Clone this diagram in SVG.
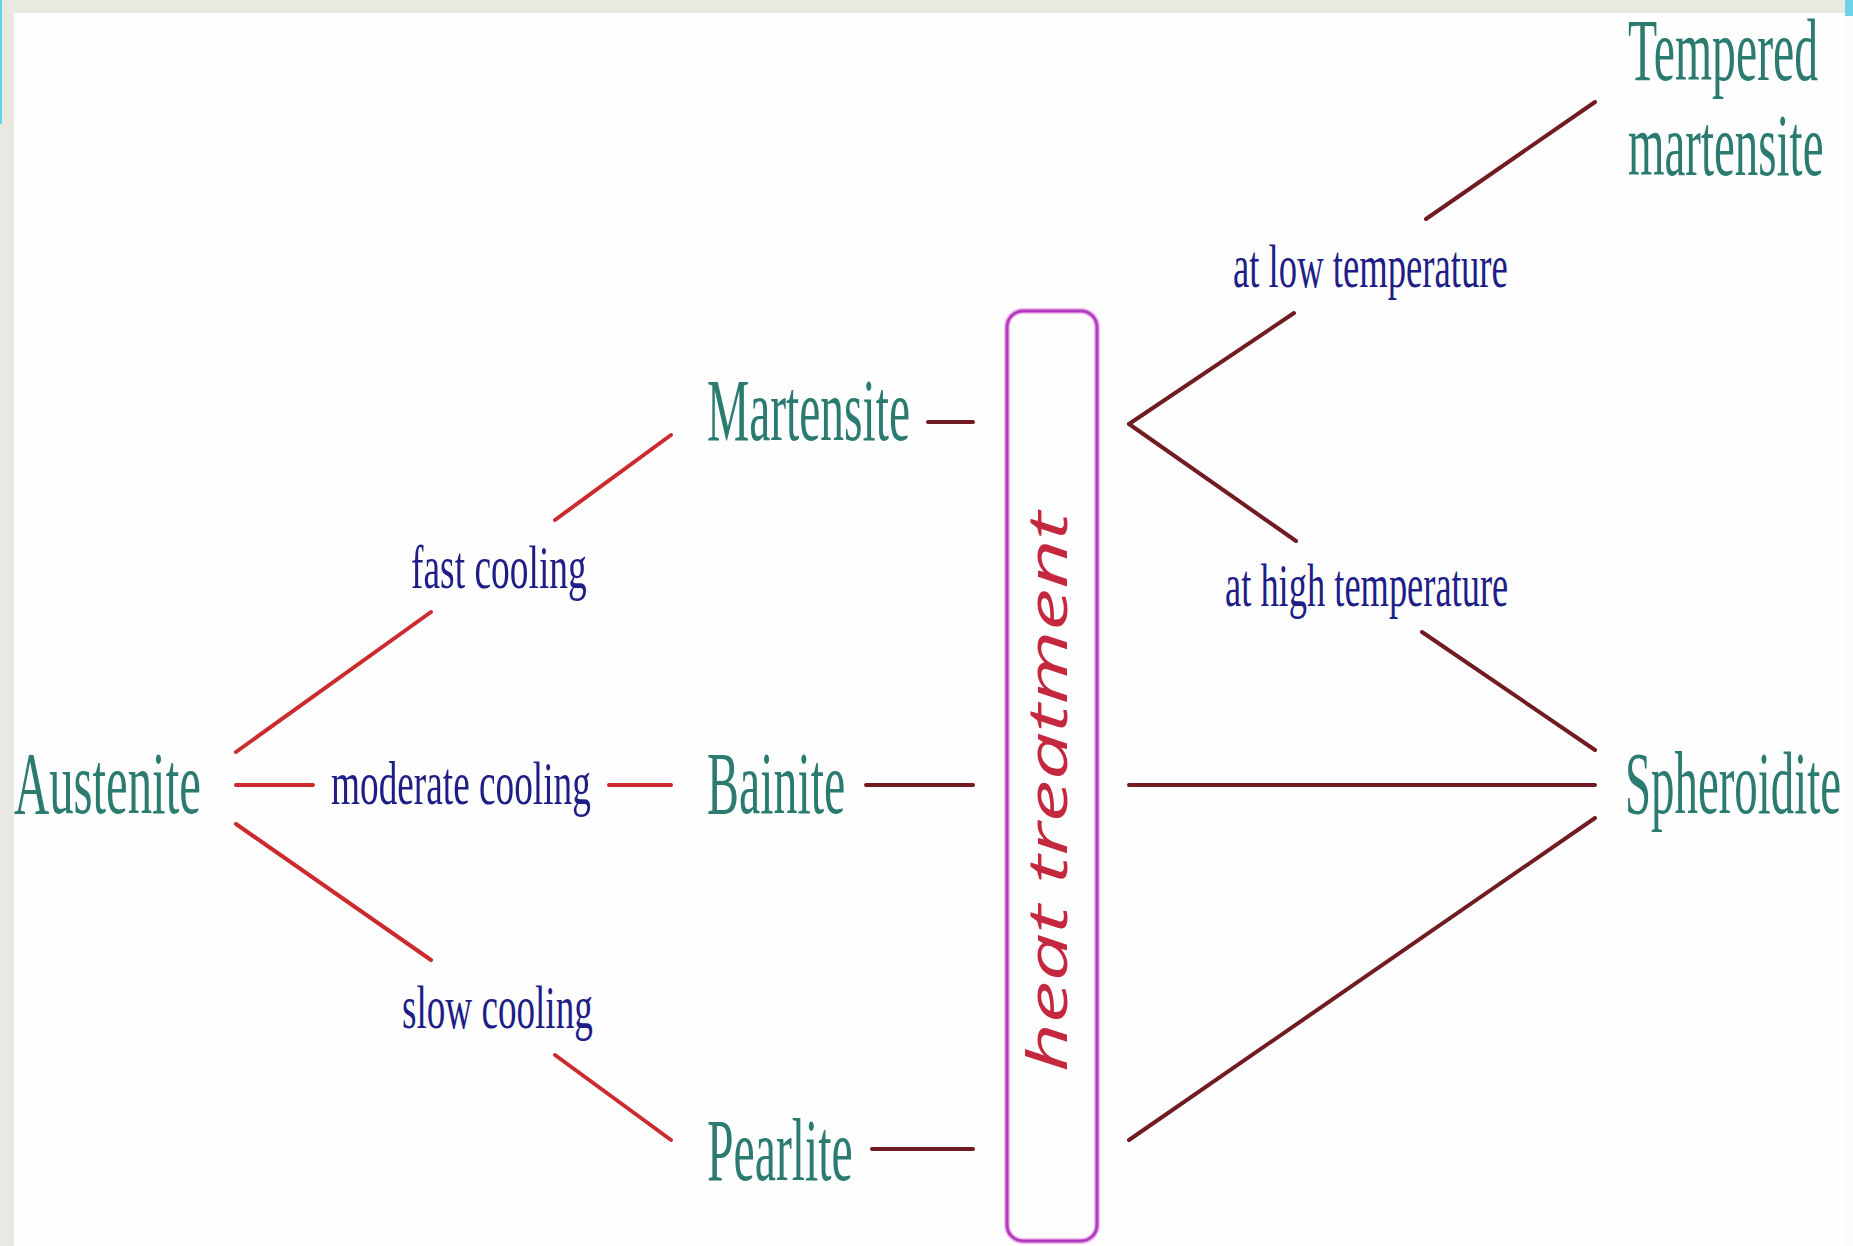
<svg xmlns="http://www.w3.org/2000/svg" width="1853" height="1246" viewBox="0 0 1853 1246">
  <defs>
    <style>
      .phase { font-family: "Liberation Serif", "Times New Roman", serif; font-size: 88px; fill: #2b7b70; }
      .proc { font-family: "Liberation Serif", "Times New Roman", serif; font-size: 62px; fill: #1e1e86; }
      .cool { stroke: #cc2b2d; stroke-width: 4; stroke-linecap: round; fill: none; }
      .temper { stroke: #701c22; stroke-width: 4; stroke-linecap: round; fill: none; }
      .ht { font-family: "Open Sans", "Liberation Sans", sans-serif; font-style: italic; font-size: 54px; fill: #c4283f; }
    </style>
  </defs>

  <!-- page frame -->
  <rect x="0" y="0" width="1853" height="1246" fill="#e9e9e1"/>
  <rect x="0" y="0" width="2" height="124" fill="#5fd6e6"/>
  <rect x="1845" y="0" width="8" height="16" fill="#6fd2e4"/>
  <rect x="1845" y="16" width="8" height="1230" fill="#fbfbfb"/>
  <rect x="14" y="13" width="1831" height="1233" fill="#fefefe"/>

  <!-- connectors -->
  <g id="connectors">
    <line class="cool" x1="236" y1="752" x2="431" y2="612"/>
    <line class="cool" x1="555" y1="520" x2="671" y2="435"/>
    <line class="cool" x1="236" y1="785" x2="313" y2="785"/>
    <line class="cool" x1="609" y1="785" x2="671" y2="785"/>
    <line class="cool" x1="236" y1="824" x2="431" y2="960"/>
    <line class="cool" x1="555" y1="1055" x2="671" y2="1140"/>

    <line class="temper" x1="928" y1="422" x2="973" y2="422"/>
    <line class="temper" x1="866" y1="785" x2="973" y2="785"/>
    <line class="temper" x1="872" y1="1149" x2="973" y2="1149"/>

    <line class="temper" x1="1129" y1="424" x2="1294" y2="313"/>
    <line class="temper" x1="1129" y1="424" x2="1296" y2="541"/>
    <line class="temper" x1="1426" y1="219" x2="1595" y2="102"/>
    <line class="temper" x1="1422" y1="632" x2="1595" y2="750"/>
    <line class="temper" x1="1129" y1="785" x2="1595" y2="785"/>
    <line class="temper" x1="1129" y1="1140" x2="1595" y2="818"/>
  </g>

  <!-- phases (condensed serif: horizontal scale 0.54) -->
  <g id="austenite"><text class="phase" transform="translate(14,813) scale(0.54,1)" textLength="346" lengthAdjust="spacingAndGlyphs">Austenite</text></g>
  <g id="martensite"><text class="phase" transform="translate(707,440) scale(0.54,1)" textLength="376" lengthAdjust="spacingAndGlyphs">Martensite</text></g>
  <g id="bainite"><text class="phase" transform="translate(707,813) scale(0.54,1)" textLength="256" lengthAdjust="spacingAndGlyphs">Bainite</text></g>
  <g id="pearlite"><text class="phase" transform="translate(707,1180) scale(0.54,1)" textLength="270" lengthAdjust="spacingAndGlyphs">Pearlite</text></g>
  <g id="spheroidite"><text class="phase" transform="translate(1625,813) scale(0.54,1)" textLength="400" lengthAdjust="spacingAndGlyphs">Spheroidite</text></g>
  <g id="tempered-martensite">
    <text class="phase" transform="translate(1628,80) scale(0.54,1)" textLength="352" lengthAdjust="spacingAndGlyphs">Tempered</text>
    <text class="phase" transform="translate(1628,175) scale(0.54,1)" textLength="362" lengthAdjust="spacingAndGlyphs">martensite</text>
  </g>

  <!-- process labels (condensed serif: horizontal scale 0.6) -->
  <g id="fast-cooling"><text class="proc" transform="translate(411,588) scale(0.6,1)" textLength="293" lengthAdjust="spacingAndGlyphs">fast cooling</text></g>
  <g id="moderate-cooling"><text class="proc" transform="translate(331,804) scale(0.6,1)" textLength="433" lengthAdjust="spacingAndGlyphs">moderate cooling</text></g>
  <g id="slow-cooling"><text class="proc" transform="translate(402,1028) scale(0.6,1)" textLength="318" lengthAdjust="spacingAndGlyphs">slow cooling</text></g>
  <g id="low-temperature"><text class="proc" transform="translate(1233,287) scale(0.6,1)" textLength="458" lengthAdjust="spacingAndGlyphs">at low temperature</text></g>
  <g id="high-temperature"><text class="proc" transform="translate(1225,606) scale(0.6,1)" textLength="472" lengthAdjust="spacingAndGlyphs">at high temperature</text></g>

  <!-- heat treatment bar -->
  <g id="heat-treatment">
    <rect x="1007" y="311" width="90" height="930" rx="16" ry="16" fill="none" stroke="#f2b8f2" stroke-width="6"/>
    <rect x="1007" y="311" width="90" height="930" rx="16" ry="16" fill="none" stroke="#b03cbc" stroke-width="3"/>
    <text class="ht" transform="translate(1067,1072) rotate(-90)" x="0" y="0" textLength="560" lengthAdjust="spacingAndGlyphs">heat treatment</text>
  </g>
</svg>
